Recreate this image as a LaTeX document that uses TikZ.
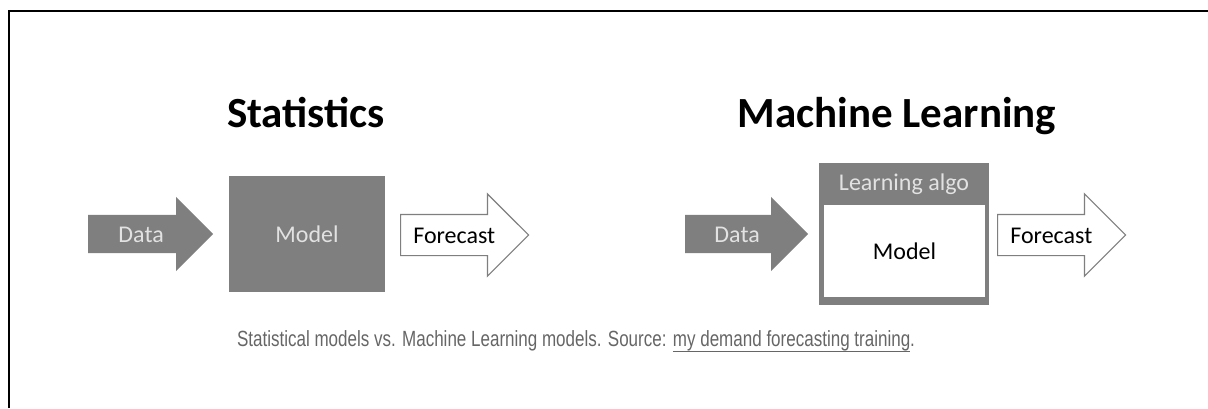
\documentclass[tikz,border=0pt]{standalone}
\usepackage{fontspec}
\setmainfont{Carlito}
\newfontfamily\didafont{Liberation Sans}
\usepackage{graphicx}
\usetikzlibrary{shapes.arrows}
\definecolor{grigio}{HTML}{7F7F7F}
\definecolor{grigiochiaro}{HTML}{E2E2E2}
\definecolor{grigiotesto}{HTML}{666666}
\newcommand{\sottolinea}[1]{%
\setbox0\hbox{#1}\rlap{\rule[-6pt]{\wd0}{1.3pt}}\box0%
}
\tikzset{
    titolo/.style = {anchor = base, font = \fontsize{43}{43}\selectfont\bfseries},
    scritta/.style = {font = \fontsize{24}{24}\selectfont},
    frecciapiena/.style = {single arrow, scritta, fill = grigio, text = grigiochiaro, inner sep = 0pt, text height = 27pt, text depth = 11pt, single arrow head extend = 18pt, anchor = tail},
    frecciavuota/.style = {single arrow, scritta, draw = grigio, line width = 1.2pt, fill = white, inner sep = 0pt, text height = 28pt, text depth = 12pt, single arrow head extend = 20.5pt, anchor = tail},
    blocco/.style = {rectangle, scritta, inner sep = 0pt}
}

\begin{document}
\begin{tikzpicture}[x = 1pt, y = -1pt]
    \useasboundingbox (0,0) rectangle (1208,408);
    % Parametri
    \pgfmathsetmacro{\rigaY}{234}
    \pgfmathsetmacro{\colS}{306}
    \pgfmathsetmacro{\colML}{904}
    % Cornice
    \draw[line width = 2pt] (9,408) -- (9,11) -- (1208,11);
    % Titoli
    \node[titolo] (titS) at (\colS,127){Statistics};
    \node[titolo] (titML) at (897,127){Machine Learning};
    % Statistica
    \node[frecciapiena, minimum height = 125pt] (datiS) at (88,\rigaY){Data};
    \node[blocco, fill = grigio, text = grigiochiaro, minimum width = 156pt, minimum height = 116pt] (modelloS) at (307,\rigaY){Model};
    \node[frecciavuota, minimum height = 128pt] (prevS) at (400,235){Forecast};
    % Machine learning
    \node[frecciapiena, minimum height = 123pt] (datiML) at (685,\rigaY){Data};
    \node[blocco, fill = grigio, minimum width = 170pt, minimum height = 142pt] (algoML) at (\colML,\rigaY){};
    \node[blocco, fill = white, minimum width = 161pt, minimum height = 92pt] (modelloML) at (904.5,251){Model};
    \node[scritta, text = grigiochiaro] (etichettaML) at (\colML,184){Learning algo};
    \node[frecciavuota, minimum height = 128pt] (prevML) at (997,235){Forecast};
    % Didascalia
    \node[anchor = base, text = grigiotesto, font = \didafont\fontsize{22}{22}\selectfont] (dida) at (576,346){\resizebox{678pt}{\height}{Statistical models vs. Machine Learning models. Source: \sottolinea{my demand forecasting training}.}};
\end{tikzpicture}
\end{document}
